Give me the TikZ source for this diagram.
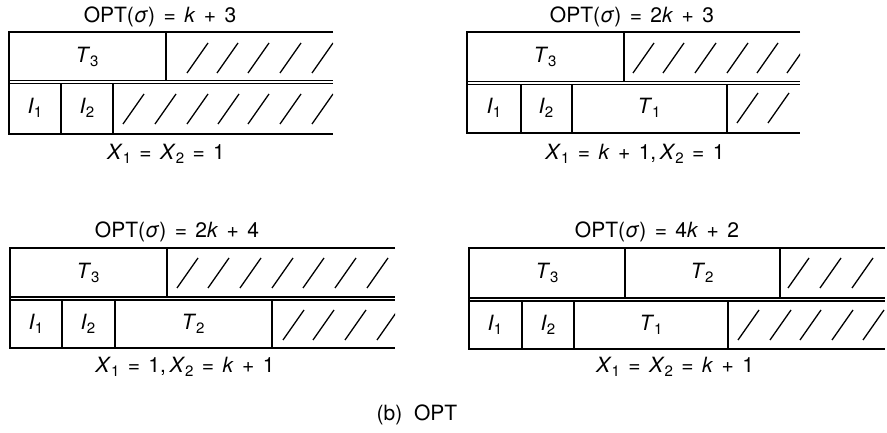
\documentclass[tikz,border=0pt]{standalone}
\usepackage{fontspec}
\setmainfont{TeX Gyre Heros}
\newcommand\vsub[2]{\textit{#1}\raisebox{-0.4ex}{\fontsize{15}{15}\selectfont #2}}
\newcommand\eqs{\hspace{0.4em}=\hspace{0.4em}}
\newcommand\pls{\hspace{0.4em}+\hspace{0.4em}}
\begin{document}
\begin{tikzpicture}[x=1pt,y=-1pt,
  box/.style={line width=1.3pt},
  hatchline/.style={line width=1.3pt},
  lbl/.style={inner sep=0pt,font=\fontsize{21}{23}\selectfont},
  ttl/.style={inner sep=0pt,font=\fontsize{21}{23}\selectfont}]
\useasboundingbox (0,0) rectangle (887,433);
% ---------- Panel 1 ----------
\draw[box] (333,32) -- (9,32) -- (9,134) -- (333,134);
\draw[box] (9,80.5) -- (333,80.5);
\draw[box] (9,83.5) -- (333,83.5);
\draw[box] (166,32) -- (166,80.5);
\draw[box] (61,83.5) -- (61,134);
\draw[box] (113,83.5) -- (113,134);
\begin{scope}
\clip (166,32) rectangle (333,80.5);
\foreach \x in {187,217,248,280,312} \draw[hatchline] (\x,73) -- ++(21,-30);
\end{scope}
\begin{scope}
\clip (113,83.5) rectangle (333,134);
\foreach \x in {123,155,187,218,248,280,312,343} \draw[hatchline] (\x,124) -- ++(21,-30);
\end{scope}
\node[ttl] (t1) at (160,17) {OPT(\textit{σ})\eqs\textit{k}\pls3};
\node[lbl] (p1T3) at (87,57) {\vsub{T}{3}};
\node[lbl] (p1I1) at (35,108) {\vsub{I}{1}};
\node[lbl] (p1I2) at (87,108) {\vsub{I}{2}};
\node[lbl] (x1) at (166,154) {\vsub{X}{1}\eqs\vsub{X}{2}\eqs1};
% ---------- Panel 2 ----------
\draw[box] (800,32) -- (467,32) -- (467,133) -- (800,133);
\draw[box] (467,81.5) -- (800,81.5);
\draw[box] (467,84.5) -- (800,84.5);
\draw[box] (624,32) -- (624,81.5);
\draw[box] (521,84.5) -- (521,133);
\draw[box] (572,84.5) -- (572,133);
\draw[box] (727,84.5) -- (727,133);
\begin{scope}
\clip (624,32) rectangle (800,81.5);
\foreach \x in {633,663,695,727,757,787} \draw[hatchline] (\x,73) -- ++(21,-30);
\end{scope}
\begin{scope}
\clip (727,84.5) rectangle (800,133);
\foreach \x in {737,768} \draw[hatchline] (\x,123) -- ++(21,-30);
\end{scope}
\node[ttl] (t2) at (632,17) {OPT(\textit{σ})\eqs2\textit{k}\pls3};
\node[lbl] (p2T3) at (545,57) {\vsub{T}{3}};
\node[lbl] (p2I1) at (494,108) {\vsub{I}{1}};
\node[lbl] (p2I2) at (546,108) {\vsub{I}{2}};
\node[lbl] (p2T1) at (649,108) {\vsub{T}{1}};
\node[lbl] (x2) at (635,154) {\vsub{X}{1}\eqs\textit{k}\pls1,\,\vsub{X}{2}\eqs1};
% ---------- Panel 3 ----------
\draw[box] (395,248) -- (10,248) -- (10,348) -- (395,348);
\draw[box] (10,297) -- (395,297);
\draw[box] (10,300) -- (395,300);
\draw[box] (167,248) -- (167,297);
\draw[box] (62,300) -- (62,348);
\draw[box] (115,300) -- (115,348);
\draw[box] (272,300) -- (272,348);
\begin{scope}
\clip (167,248) rectangle (395,297);
\foreach \x in {177,208,240,272,303,335,367} \draw[hatchline] (\x,288) -- ++(21,-30);
\end{scope}
\begin{scope}
\clip (272,300) rectangle (395,348);
\foreach \x in {283,313,345,377} \draw[hatchline] (\x,340) -- ++(21,-30);
\end{scope}
\node[ttl] (t3) at (177,232) {OPT(\textit{σ})\eqs2\textit{k}\pls4};
\node[lbl] (p3T3) at (88,273) {\vsub{T}{3}};
\node[lbl] (p3I1) at (36,324) {\vsub{I}{1}};
\node[lbl] (p3I2) at (88,324) {\vsub{I}{2}};
\node[lbl] (p3T2) at (193,324) {\vsub{T}{2}};
\node[lbl] (x3) at (185,367) {\vsub{X}{1}\eqs1,\,\vsub{X}{2}\eqs\textit{k}\pls1};
% ---------- Panel 4 ----------
\draw[box] (885,248) -- (469,248) -- (469,349) -- (885,349);
\draw[box] (469,298) -- (885,298);
\draw[box] (469,301) -- (885,301);
\draw[box] (625,248) -- (625,298);
\draw[box] (780,248) -- (780,298);
\draw[box] (522,301) -- (522,349);
\draw[box] (574,301) -- (574,349);
\draw[box] (728,301) -- (728,349);
\begin{scope}
\clip (780,248) rectangle (885,298);
\foreach \x in {788,820,852} \draw[hatchline] (\x,288) -- ++(21,-30);
\end{scope}
\begin{scope}
\clip (728,301) rectangle (885,349);
\foreach \x in {738,770,800,832,863} \draw[hatchline] (\x,340) -- ++(21,-30);
\end{scope}
\node[ttl] (t4) at (657,232) {OPT(\textit{σ})\eqs4\textit{k}\pls2};
\node[lbl] (p4T3) at (547,273) {\vsub{T}{3}};
\node[lbl] (p4T2) at (702,273) {\vsub{T}{2}};
\node[lbl] (p4I1) at (495,325) {\vsub{I}{1}};
\node[lbl] (p4I2) at (548,325) {\vsub{I}{2}};
\node[lbl] (p4T1) at (651,325) {\vsub{T}{1}};
\node[lbl] (x4) at (675,367) {\vsub{X}{1}\eqs\vsub{X}{2}\eqs\textit{k}\pls1};
% ---------- Caption ----------
\node[lbl] (cap) at (417,415) {(b)\ \ OPT};
\end{tikzpicture}
\end{document}
